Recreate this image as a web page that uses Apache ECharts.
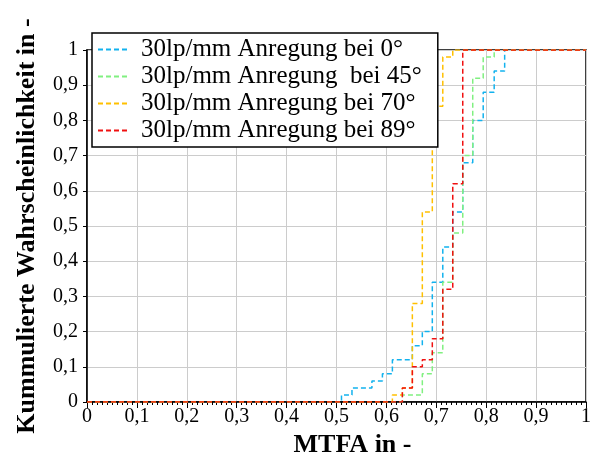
<!DOCTYPE html>
<html>
<head>
<meta charset="utf-8">
<script src="https://cdn.jsdelivr.net/npm/echarts@6/dist/echarts.min.js"></script>
<style>
  html, body { margin: 0; padding: 0; background: #fff; }
  #chart { width: 592px; height: 455px; }
</style>
</head>
<body>
<div id="chart"></div>
<script>
// step positions (MTFA) and cumulative probability after each step
var names = [
  '30lp/mm Anregung bei 0°',
  '30lp/mm Anregung  bei 45°',
  '30lp/mm Anregung bei 70°',
  '30lp/mm Anregung bei 89°'
];
var x0 = [0.51, 0.531, 0.571, 0.592, 0.612, 0.652, 0.672, 0.692, 0.713, 0.733, 0.753, 0.773, 0.794, 0.816, 0.837];
var y0 = [0.02, 0.04, 0.06, 0.08, 0.12, 0.16, 0.20, 0.34, 0.44, 0.54, 0.68, 0.80, 0.88, 0.94, 1.0];
var x45 = [0.632, 0.672, 0.692, 0.713, 0.733, 0.753, 0.773, 0.794, 0.816];
var y45 = [0.02, 0.08, 0.14, 0.34, 0.48, 0.70, 0.92, 0.98, 1.0];
var x70 = [0.612, 0.632, 0.652, 0.672, 0.692, 0.713, 0.733];
var y70 = [0.02, 0.04, 0.28, 0.54, 0.84, 0.98, 1.0];
var x89 = [0.632, 0.652, 0.672, 0.692, 0.713, 0.733, 0.753];
var y89 = [0.04, 0.10, 0.12, 0.18, 0.32, 0.62, 1.0];
var colors = ['#12B2EE', '#80F080', '#FFC000', '#F01010'];

function steps(xs, ys) {
  var d = [[0, 0]];
  for (var i = 0; i < xs.length; i++) d.push([xs[i], ys[i]]);
  d.push([1, 1]);
  return d;
}
var sets = [[x0, y0], [x45, y45], [x70, y70], [x89, y89]];

function comma(v) {
  return String(+v.toFixed(1)).replace('.', ',');
}

var serif = 'Liberation Serif';
var chart = echarts.init(document.getElementById('chart'));
chart.setOption({
  animation: false,
  color: colors,
  grid: {
    left: 87, right: 6, top: 50, bottom: 53,
    outerBoundsMode: 'none',
    containLabel: false,
    show: true, borderColor: '#000', borderWidth: 1.5
  },
  legend: {
    left: 92, top: 33,
    orient: 'vertical',
    backgroundColor: '#fff',
    borderColor: '#000',
    borderWidth: 1.5,
    borderRadius: 0,
    padding: [4, 16, 4, 5],
    itemWidth: 31,
    itemHeight: 20,
    itemGap: 2,
    itemStyle: { opacity: 0 },
    textStyle: { fontFamily: serif, fontSize: 25, color: '#000', padding: [0, 0, 0, 7] },
    data: names
  },
  xAxis: {
    type: 'value',
    min: 0, max: 1, interval: 0.1,
    name: 'MTFA in -',
    nameLocation: 'middle',
    nameGap: 25,
    nameTextStyle: { fontFamily: serif, fontSize: 26, fontWeight: 'bold', color: '#000', padding: [0, 0, 0, 32] },
    axisLine: { lineStyle: { color: '#000', width: 1.5 } },
    axisTick: { length: 6, lineStyle: { color: '#000' } },
    minorTick: { show: true, splitNumber: 10, length: 3, lineStyle: { color: '#000' } },
    axisLabel: { fontFamily: serif, fontSize: 20, color: '#000', margin: 5, formatter: comma },
    splitLine: { lineStyle: { color: '#cccccc', width: 1 } }
  },
  yAxis: {
    type: 'value',
    min: 0, max: 1, interval: 0.1,
    name: 'Kummulierte Wahrscheinlichkeit in -',
    nameLocation: 'middle',
    nameGap: 47,
    nameRotate: 90,
    nameTextStyle: { fontFamily: serif, fontSize: 26, fontWeight: 'bold', color: '#000' },
    axisLine: { show: true, lineStyle: { color: '#000', width: 1.5 } },
    axisTick: { show: true, length: 4, lineStyle: { color: '#000' } },
    axisLabel: { fontFamily: serif, fontSize: 20, color: '#000', margin: 9, formatter: comma },
    splitLine: { lineStyle: { color: '#cccccc', width: 1 } }
  },
  series: sets.map(function (s, i) {
    return {
      name: names[i],
      type: 'line',
      step: 'end',
      symbol: 'none',
      data: steps(s[0], s[1]),
      lineStyle: { color: colors[i], width: 1.5, type: [5, 3] }
    };
  })
});
</script>
</body>
</html>
